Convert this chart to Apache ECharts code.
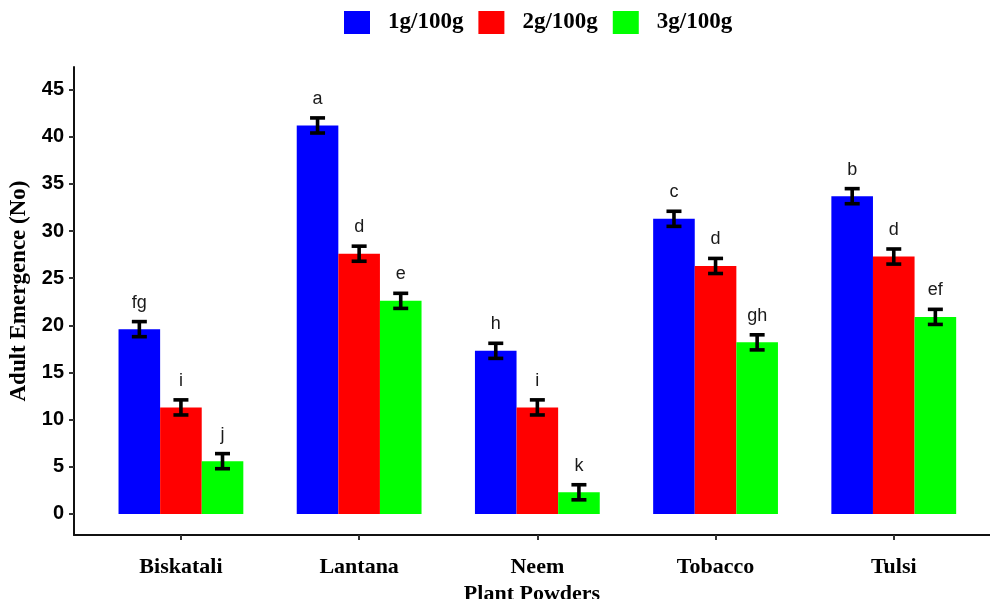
<!DOCTYPE html>
<html>
<head>
<meta charset="utf-8">
<script src="https://cdn.jsdelivr.net/npm/echarts@6/dist/echarts.min.js"></script>
<style>
  html, body { margin: 0; padding: 0; background: #fff; }
  #chart { width: 990px; height: 599px; }
</style>
</head>
<body>
<div id="chart"></div>
<script>
// data
var categories = ['Biskatali', 'Lantana', 'Neem', 'Tobacco', 'Tulsi'];
var seriesNames = ['1g/100g', '2g/100g', '3g/100g'];
var dose1 = [19.6, 41.2, 17.3, 31.3, 33.7];
var dose2 = [11.3, 27.6, 11.3, 26.3, 27.3];
var dose3 = [5.6, 22.6, 2.3, 18.2, 20.9];
var err1 = [0.8, 0.8, 0.8, 0.8, 0.8];
var err2 = [0.8, 0.8, 0.8, 0.8, 0.8];
var err3 = [0.8, 0.8, 0.8, 0.8, 0.8];
var letters1 = ['fg', 'a', 'h', 'c', 'b'];
var letters2 = ['i', 'd', 'i', 'd', 'd'];
var letters3 = ['j', 'e', 'k', 'gh', 'ef'];
var yTicks = [0, 5, 10, 15, 20, 25, 30, 35, 40, 45];
var colors = ['#0000ff', '#ff0000', '#00ff00'];

var values = [dose1, dose2, dose3];
var errs = [err1, err2, err3];
var letters = [letters1, letters2, letters3];
var xPos = categories.map(function (c, i) { return i + 1; });

var groupWidth = 0.7; // ggplot dodge width, in category units
var barUnits = groupWidth / 3;

var chart = echarts.init(document.getElementById('chart'));

var series = [];
values.forEach(function (vals, s) {
    series.push({
        name: seriesNames[s],
        type: 'bar',
        barWidth: 41.6,
        barGap: '0%',
        itemStyle: { color: colors[s] },
        data: vals.map(function (v, i) { return [xPos[i], v]; })
    });
});

// error bars + significance letters
values.forEach(function (vals, s) {
    series.push({
        type: 'custom',
        silent: true,
        z: 5,
        renderItem: function (params, api) {
            var x = api.value(0) + (s - 1) * barUnits;
            var y = api.value(1);
            var e = api.value(2);
            var top = api.coord([x, y + e]);
            var bot = api.coord([x, y - e]);
            var cap = 7.5;
            var st = { stroke: '#000', lineWidth: 3.6 };
            return {
                type: 'group',
                children: [
                    { type: 'line', shape: { x1: top[0], y1: top[1], x2: bot[0], y2: bot[1] }, style: st },
                    { type: 'line', shape: { x1: top[0] - cap, y1: top[1], x2: top[0] + cap, y2: top[1] }, style: st },
                    { type: 'line', shape: { x1: bot[0] - cap, y1: bot[1], x2: bot[0] + cap, y2: bot[1] }, style: st },
                    {
                        type: 'text',
                        style: {
                            x: top[0], y: top[1] - 19,
                            text: letters[s][params.dataIndex],
                            align: 'center', verticalAlign: 'middle',
                            fontFamily: 'Liberation Sans', fontSize: 18, fill: '#1a1a1a'
                        }
                    }
                ]
            };
        },
        data: vals.map(function (v, i) { return [xPos[i], v, errs[s][i]]; })
    });
});

var option = {
    animation: false,
    backgroundColor: '#fff',
    legend: {
        data: seriesNames,
        top: 6,
        left: 339,
        itemWidth: 26,
        itemHeight: 23,
        itemGap: 15,
        icon: 'rect',
        textStyle: {
            fontFamily: 'Liberation Serif', fontWeight: 'bold', fontSize: 23,
            color: '#000', padding: [0, 0, 0, 13]
        }
    },
    grid: { left: 74, right: 0, top: 67, bottom: 64, outerBoundsMode: 'none' },
    xAxis: {
        type: 'value',
        min: 0.4,
        max: 5.54,
        name: 'Plant Powders',
        nameLocation: 'middle',
        nameGap: 44,
        nameTextStyle: { fontFamily: 'Liberation Serif', fontWeight: 'bold', fontSize: 22, color: '#000' },
        splitLine: { show: false },
        axisLine: { onZero: false, lineStyle: { color: '#111', width: 2 } },
        axisTick: { customValues: xPos, length: 5, lineStyle: { color: '#333', width: 2 } },
        axisLabel: {
            customValues: xPos,
            margin: 21,
            formatter: function (v) { return categories[Math.round(v) - 1]; },
            fontFamily: 'Liberation Serif', fontWeight: 'bold', fontSize: 22, color: '#000'
        }
    },
    yAxis: {
        type: 'value',
        min: -2.23,
        max: 47.4,
        name: 'Adult Emergence (No)',
        nameLocation: 'middle',
        nameGap: 42,
        nameTextStyle: {
            fontFamily: 'Liberation Serif', fontWeight: 'bold', fontSize: 23, color: '#000',
            padding: [0, 0, 0, 20]
        },
        splitLine: { show: false },
        axisLine: { show: true, onZero: false, lineStyle: { color: '#111', width: 2 } },
        axisTick: { show: true, customValues: yTicks, length: 5, lineStyle: { color: '#333', width: 2 } },
        axisLabel: {
            customValues: yTicks,
            margin: 10,
            fontFamily: 'Liberation Sans', fontWeight: 'bold', fontSize: 20, color: '#000'
        }
    },
    series: series
};

chart.setOption(option);
</script>
</body>
</html>
